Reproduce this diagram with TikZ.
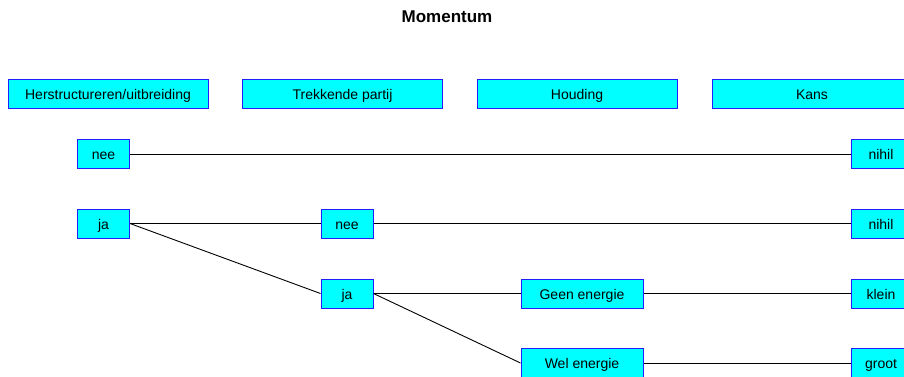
\documentclass[tikz,border=0pt]{standalone}
\usepackage{fontspec}
\setmainfont{Liberation Sans}
\definecolor{boxfill}{RGB}{0,255,255}
\definecolor{boxline}{RGB}{30,30,255}
\begin{document}
\begin{tikzpicture}[x=1pt,y=-1pt,
  box/.style={draw=boxline,fill=boxfill,line width=1pt,minimum height=29pt,inner sep=0pt,text height=12pt,text depth=0.4pt,font=\fontsize{14}{16}\selectfont},
  head/.style={box,minimum width=200pt},
  small/.style={box,minimum width=52pt},
  wide/.style={box,minimum width=122pt},
  right/.style={box,minimum width=60pt},
  link/.style={draw=black,line width=0.9pt}]
\useasboundingbox (0,0) rectangle (904,376);
\clip (0,0) rectangle (904,376);
\node[font=\fontsize{17}{20}\selectfont\bfseries] (title) at (447,17) {Momentum};
\node[head] (h1) at (108,93.5) {Herstructureren/uitbreiding};
\node[head] (h2) at (342.5,93.5) {Trekkende partij};
\node[head] (h3) at (577,93.5) {Houding};
\node[head] (h4) at (812,93.5) {Kans};
\node[small] (nee1) at (103.5,154) {nee};
\node[small] (ja1) at (103.5,223.5) {ja};
\node[small] (nee2) at (347,223.5) {nee};
\node[small] (ja2) at (347,293.5) {ja};
\node[wide] (geen) at (582,293.5) {Geen energie};
\node[wide] (wel) at (582,363) {Wel energie};
\node[right] (k1) at (881,154) {nihil};
\node[right] (k2) at (881,223.5) {nihil};
\node[right] (k3) at (881,293.5) {klein};
\node[right] (k4) at (881,363) {groot};
\draw[link] (nee1.east) -- (k1.west);
\draw[link] (ja1.east) -- (nee2.west);
\draw[link] (nee2.east) -- (k2.west);
\draw[link] (ja1.east) -- (ja2.west);
\draw[link] (ja2.east) -- (geen.west);
\draw[link] (ja2.east) -- (wel.west);
\draw[link] (geen.east) -- (k3.west);
\draw[link] (wel.east) -- (k4.west);
\end{tikzpicture}
\end{document}
